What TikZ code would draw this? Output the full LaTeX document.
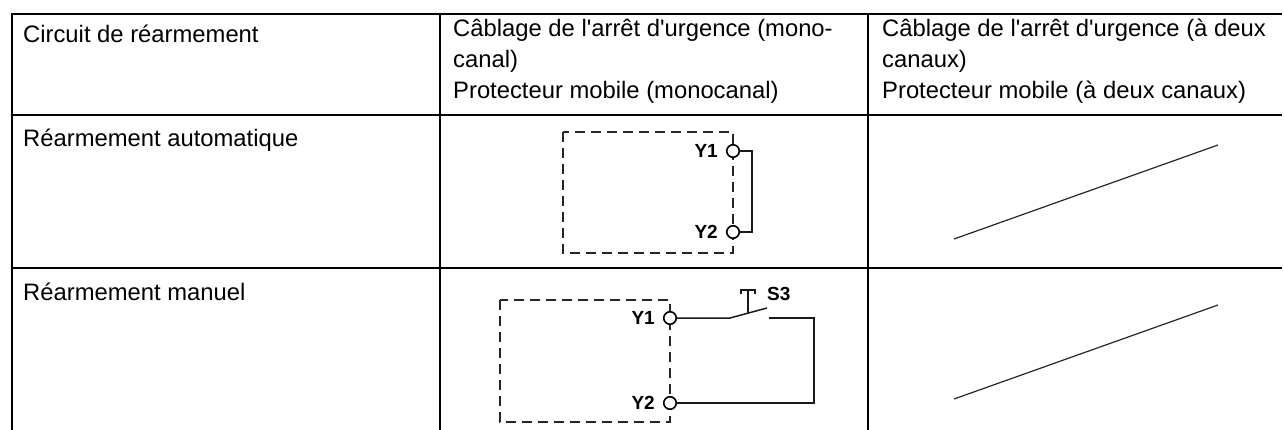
\documentclass[tikz,border=0pt]{standalone}
\usepackage{fontspec}
\setmainfont{Liberation Sans}
\usetikzlibrary{positioning}

\begin{document}
\begin{tikzpicture}[x=1pt,y=-1pt]
		\tikzstyle{grid}=[line width=1.6pt]
		\tikzstyle{cell}=[anchor=base west, inner sep=0, align=left, font=\fontsize{23.8}{31}\selectfont]
		\tikzstyle{unit}=[dash pattern=on 10pt off 6pt, line width=1.8pt, black!85]
		\tikzstyle{term}=[circle, draw, line width=1.6pt, fill=white, minimum size=12.5pt, inner sep=0]
		\tikzstyle{wire}=[line width=1.5pt, black!90]
		\tikzstyle{tag}=[inner sep=0, font=\bfseries\fontsize{19}{20}\selectfont]
		\tikzstyle{slash}=[line width=1.2pt, black!85]
		\useasboundingbox (0,0) rectangle (1284,430);
		
		% table
		\draw[grid] (1282,14) -- (12,14) -- (12,430);
		\draw[grid] (440,14) -- (440,430);
		\draw[grid] (868,14) -- (868,430);
		\draw[grid] (12,115) -- (1282,115);
		\draw[grid] (12,268) -- (1282,268);
		
		% multi-line cells sit on their last baseline
		\node[cell] (head1) at (23,43)  {Circuit de réarmement};
		\node[cell] (head2) at (453,99) {Câblage de l\textquotesingle arrêt d\textquotesingle urgence (mono-\\canal)\\Protecteur mobile (monocanal)};
		\node[cell] (head3) at (882,99) {Câblage de l\textquotesingle arrêt d\textquotesingle urgence (à deux\\canaux)\\Protecteur mobile (à deux canaux)};
		\node[cell] (auto)  at (23,147) {Réarmement automatique};
		\node[cell] (manu)  at (23,300) {Réarmement manuel};
		
		% automatic reset
		\draw[unit] (563,132) rectangle (733,253);
		\node[term] (y1a) at (733,151) {};
		\node[term] (y2a) at (733,232) {};
		\node[tag]  (t1a) [left=8pt of y1a] {Y1};
		\node[tag]  (t2a) [left=8pt of y2a] {Y2};
		\draw[wire] (y1a) -- ++(19,0) |- (y2a);
		
		% manual reset
		\draw[unit] (500,300) rectangle (670,422);
		\node[term] (y1b) at (670,318) {};
		\node[term] (y2b) at (670,403) {};
		\node[tag]  (t1b) [left=8pt of y1b] {Y1};
		\node[tag]  (t2b) [left=8pt of y2b] {Y2};
		\coordinate (sw1)  at (730,318);
		\coordinate (sw2)  at (767,308);
		\coordinate (ct)   at (769,318);
		\coordinate (push) at (748,313);
		\draw[wire] (y1b) -- (sw1) -- (sw2);
		\draw[wire] (ct) -- ++(45,0) |- (y2b);
		\draw[wire] (push) -- ++(0,-23);
		\draw[wire] (741,294) -- (741,290) -- (755,290) -- (755,294);
		\node[tag, anchor=base west] (s3) at (767,300) {S3};
		
		% two channel: not applicable
		\draw[slash] (954,239) -- (1218,145);
		\draw[slash] (954,399) -- (1218,305);
		
		\end{tikzpicture}
\end{document}
